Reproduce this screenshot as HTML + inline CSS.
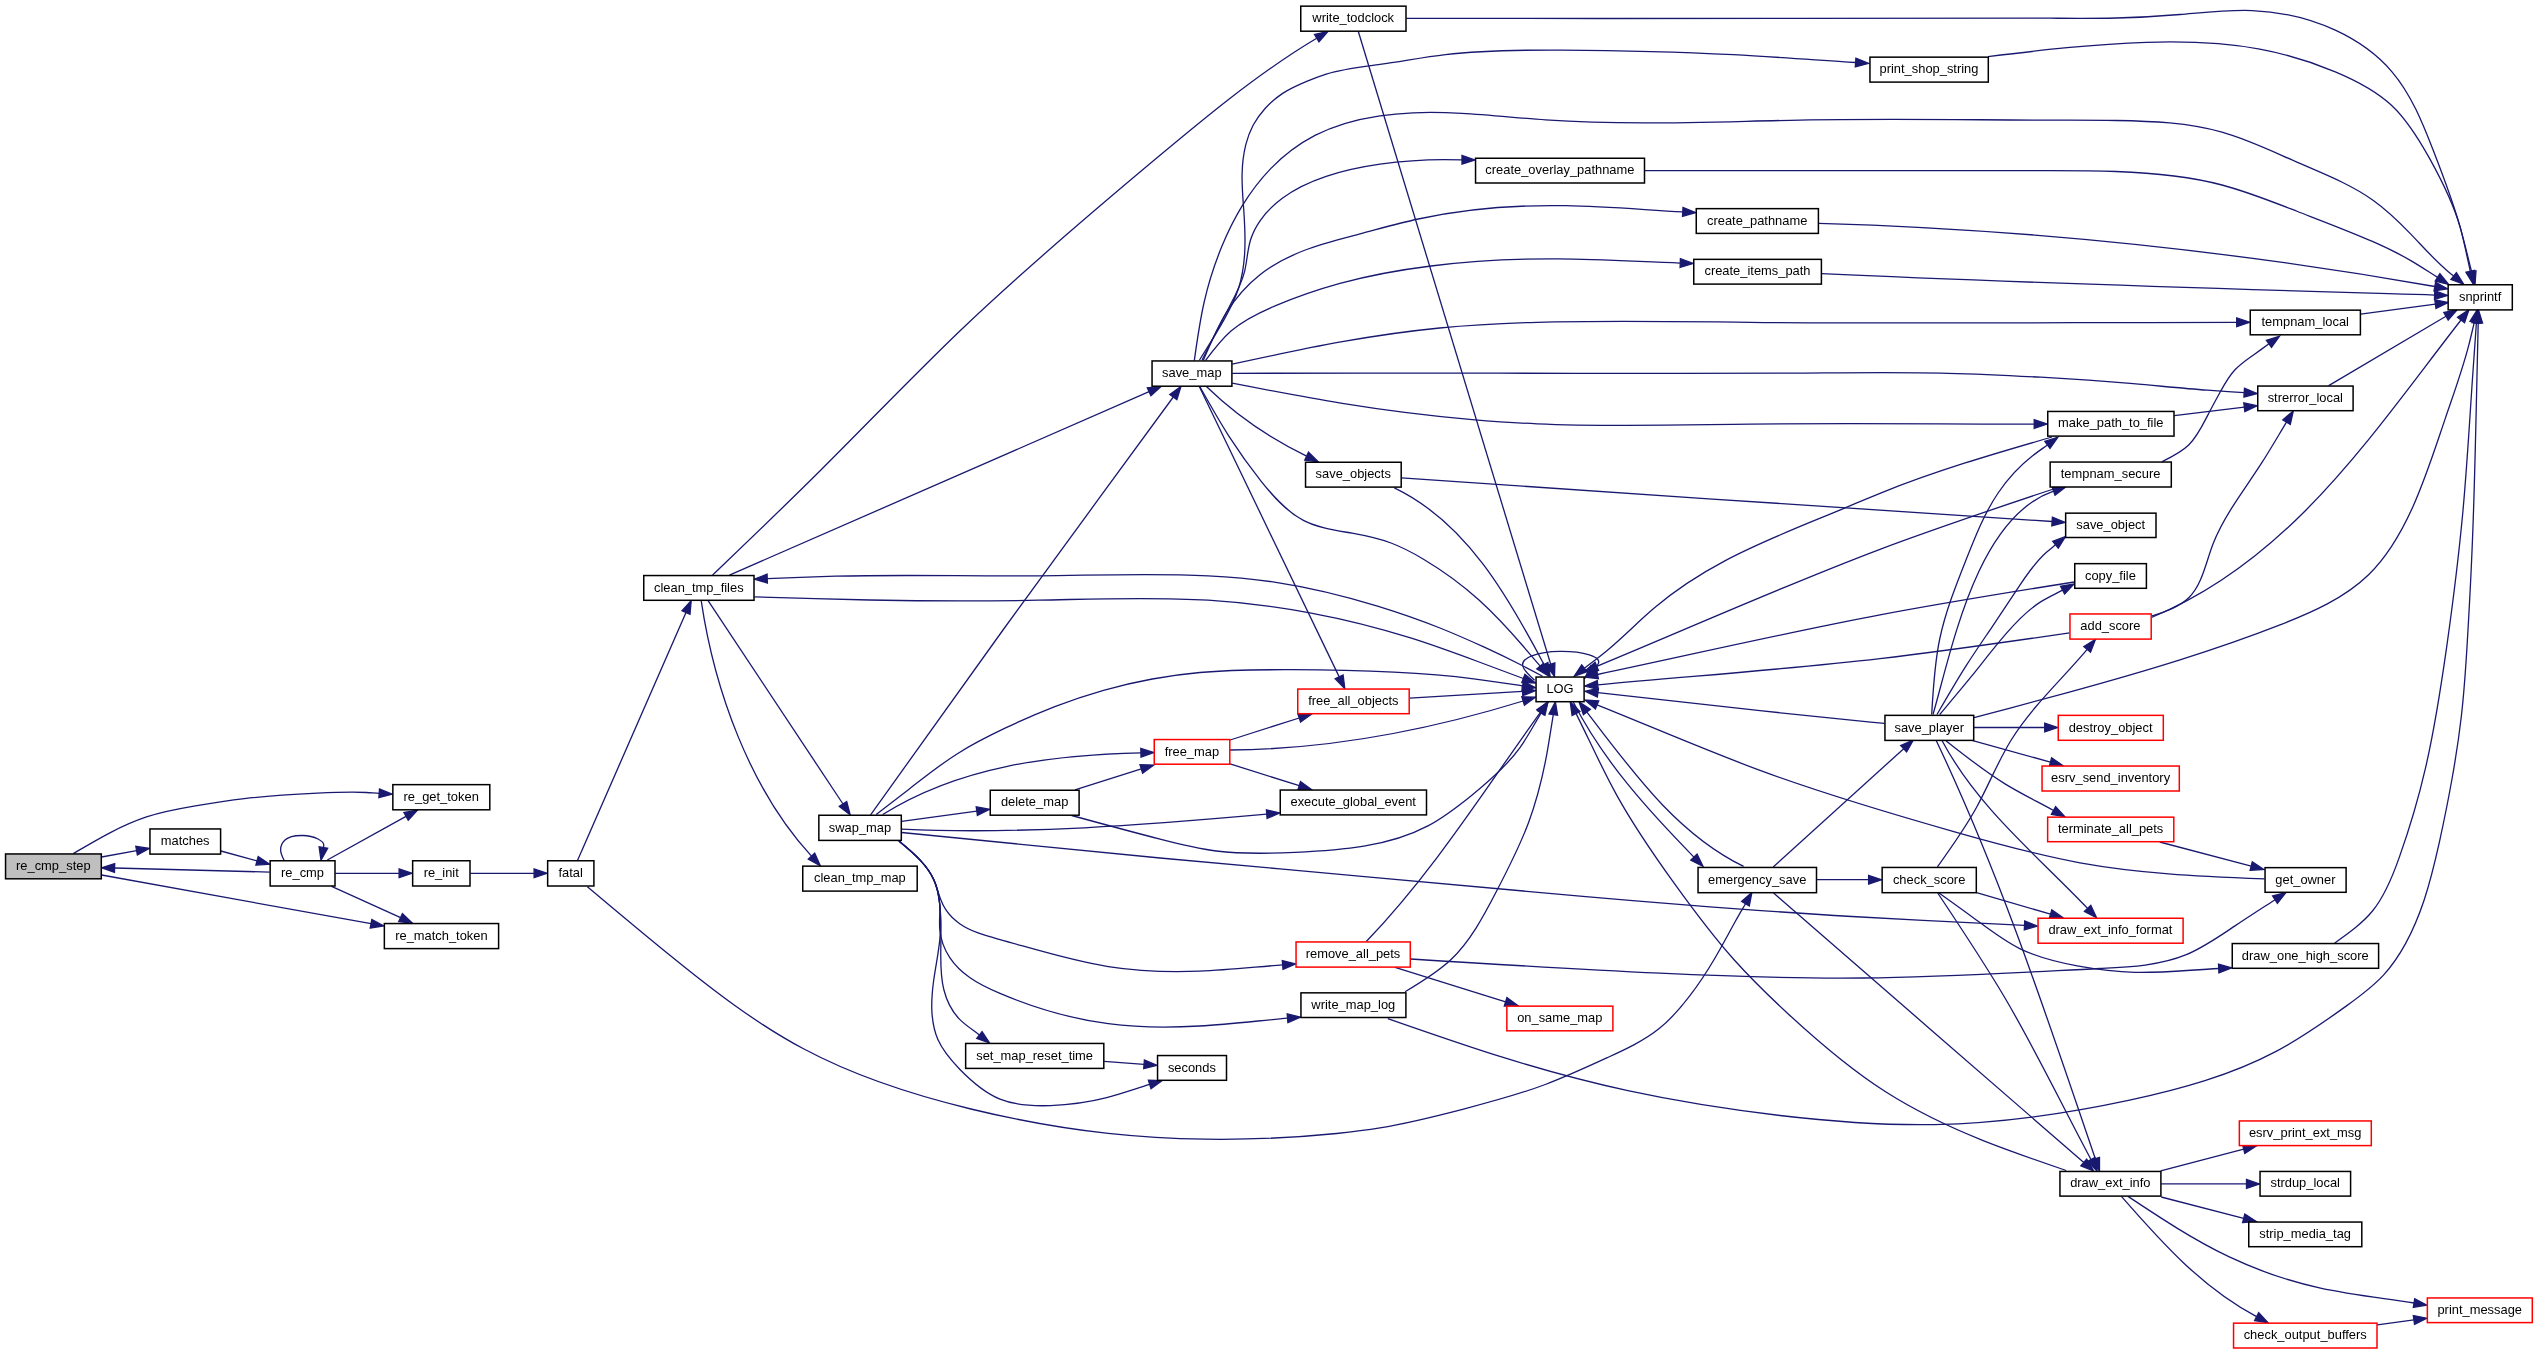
<!DOCTYPE html>
<html><head><meta charset="utf-8"><title>Call graph</title>
<style>html,body{margin:0;padding:0;background:#fff;overflow:hidden;}svg{display:block;will-change:transform;}text{font-family:"Liberation Sans",sans-serif;font-size:12.9px;fill:#000;}</style>
</head><body>
<svg xmlns="http://www.w3.org/2000/svg" width="2539" height="1355" viewBox="0 0 2539 1355">
<rect x="0" y="0" width="2539" height="1355" fill="#fff"/>
<g fill="none" stroke="#191970" stroke-width="1.3">
<path d="M73.3,853.6 C85.4,846.5 97.4,839.3 109.9,832.8 C121.7,826.6 133.9,821.1 146.5,816.9 C162.3,811.7 178.9,808.7 195.4,805.9 C211.7,803.1 228.0,800.5 244.3,798.6 C268.6,795.7 293.0,794.4 317.5,793.2 C333.8,792.4 350.1,791.6 366.4,792.5 C370.7,792.7 375.0,793.1 379.2,793.3"/>
<path d="M101.6,857.0 L136.6,850.7"/>
<path d="M101.6,875.0 L371.0,923.7"/>
<path d="M220.9,851.0 L257.1,860.9"/>
<path d="M284.1,860.3 C282.3,856.7 280.5,853.2 280.6,849.4 C280.7,846.0 282.5,842.4 285.0,840.0 C289.4,835.8 296.4,835.4 302.5,835.5 C307.9,835.6 312.7,836.3 318.0,839.0 C320.9,840.5 323.9,842.6 323.8,845.3 C323.8,846.0 323.5,846.8 323.4,847.5"/>
<path d="M327.3,860.0 L406.0,816.4"/>
<path d="M335.3,873.3 L399.1,873.3"/>
<path d="M331.6,886.3 L400.6,917.7"/>
<path d="M269.6,872.1 L114.6,868.0"/>
<path d="M470.3,873.3 L534.1,873.3"/>
<path d="M577.6,860.3 L686.0,612.5"/>
<path d="M587.4,886.7 C614.6,909.6 641.9,932.5 669.6,955.0 C712.0,989.5 755.6,1023.2 803.5,1048.8 C855.7,1076.7 913.0,1095.0 970.9,1109.0 C1016.3,1120.0 1062.0,1128.4 1108.2,1133.4 C1140.4,1136.9 1172.8,1138.7 1205.2,1139.2 C1249.1,1139.8 1293.0,1137.9 1336.6,1133.5 C1351.1,1132.0 1365.6,1130.3 1380.0,1127.9 C1407.8,1123.3 1435.2,1116.4 1462.6,1109.3 C1490.5,1102.0 1518.4,1094.6 1545.3,1084.5 C1566.3,1076.6 1586.7,1067.2 1607.3,1057.7 C1625.3,1049.4 1643.6,1041.0 1658.9,1028.8 C1670.7,1019.4 1680.7,1007.8 1689.9,995.7 C1699.0,983.8 1707.2,971.3 1714.7,958.5 C1721.9,946.3 1728.5,933.7 1735.4,921.3 C1738.7,915.4 1742.1,909.6 1745.5,903.7"/>
<path d="M712.5,575.1 C749.0,540.1 785.6,505.2 821.4,469.5 C868.0,423.1 913.4,375.5 960.9,330.0 C1024.7,269.0 1092.2,211.9 1160.0,155.3 C1182.4,136.6 1204.9,118.0 1227.9,100.0 C1256.4,77.8 1285.7,56.6 1316.7,38.2"/>
<path d="M729.5,575.1 L1149.1,391.7"/>
<path d="M754.3,596.9 C792.7,598.1 831.0,599.2 869.4,600.0 C925.8,601.1 982.2,601.3 1038.7,600.2 C1095.2,599.1 1151.8,596.7 1208.1,600.2 C1242.2,602.3 1276.2,606.6 1309.8,612.8 C1344.2,619.2 1378.1,627.6 1411.4,638.2 C1434.2,645.4 1456.7,653.7 1479.1,662.0 C1493.8,667.5 1508.6,673.0 1523.3,678.5"/>
<path d="M708.1,600.6 L843.0,804.0"/>
<path d="M701.2,600.6 C714.3,689.2 749.6,788.9 811.5,856.1"/>
<path d="M1542.6,676.2 C1535.5,672.4 1528.4,668.7 1521.2,665.0 C1509.0,658.8 1496.7,652.9 1484.3,647.2 C1469.7,640.5 1454.9,634.0 1440.0,628.0 C1419.5,619.8 1398.6,612.6 1377.5,606.1 C1344.2,595.9 1310.3,587.5 1275.9,582.3 C1253.4,578.9 1230.8,576.9 1208.1,575.8 C1151.7,572.9 1095.2,575.3 1038.7,575.8 C970.9,576.4 903.2,574.4 835.5,576.2 C812.8,576.8 790.0,577.8 767.3,578.6"/>
<path d="M870.6,814.8 C914.6,753.1 958.6,691.4 1003.0,630.0 C1059.4,552.1 1116.6,474.7 1173.3,397.0"/>
<path d="M876.2,814.5 C887.0,806.2 897.9,797.8 908.7,789.4 C924.6,777.0 940.4,764.4 957.4,753.7 C972.9,743.9 989.4,735.6 1006.1,727.7 C1022.1,720.1 1038.3,713.0 1054.8,706.6 C1070.8,700.4 1087.0,695.0 1103.5,690.3 C1119.6,685.8 1135.9,682.0 1152.3,679.0 C1168.1,676.1 1184.0,673.9 1200.0,672.5 C1230.2,669.8 1260.6,669.6 1291.0,669.7 C1352.1,669.9 1413.2,671.1 1473.7,678.8 C1490.0,680.9 1506.3,683.4 1522.6,685.8"/>
<path d="M882.7,814.5 C959.8,766.1 1052.0,754.9 1140.9,752.8"/>
<path d="M901.6,821.4 L976.8,811.1"/>
<path d="M901.6,829.2 C1023.6,834.6 1145.4,825.0 1266.8,814.2"/>
<path d="M901.6,832.5 C987.7,841.2 1073.8,850.0 1160.0,858.0 C1200.0,861.7 1240.0,865.3 1280.0,868.9 C1380.0,878.0 1480.0,887.4 1580.0,896.1 C1670.6,904.0 1761.2,911.2 1851.9,916.5 C1909.4,919.9 1967.0,922.5 2024.5,925.4"/>
<path d="M898.9,841.0 C906.2,847.0 913.4,853.0 919.9,859.9 C925.5,865.8 930.5,872.4 933.8,879.8 C936.6,886.0 938.1,892.6 940.5,899.0 C941.9,902.7 943.6,906.4 945.8,909.7 C949.4,915.2 954.3,919.9 959.7,923.7 C971.6,932.0 985.9,935.7 1000.0,939.6 C1036.4,949.6 1071.7,960.8 1108.2,966.6 C1138.2,971.3 1169.0,972.4 1199.6,971.2 C1227.4,970.1 1255.0,967.0 1282.6,964.9"/>
<path d="M898.9,841.0 C906.2,847.0 913.5,853.0 919.9,859.9 C925.4,865.8 930.4,872.4 933.8,879.8 C937.5,887.6 939.4,896.3 939.8,905.0 C940.2,913.3 939.0,921.5 939.8,929.7 C940.7,939.5 944.3,949.3 949.8,957.6 C955.0,965.5 962.0,972.1 969.7,977.5 C979.0,984.1 989.4,988.9 1000.0,993.4 C1034.7,1008.1 1071.1,1018.8 1108.2,1023.7 C1138.4,1027.7 1169.1,1027.8 1199.6,1026.0 C1229.0,1024.3 1258.2,1020.8 1287.6,1018.2"/>
<path d="M898.9,841.0 C906.2,847.0 913.4,853.0 919.9,859.9 C925.5,865.8 930.5,872.4 933.8,879.8 C937.3,887.6 938.9,896.3 939.8,905.0 C941.4,919.9 941.0,934.7 940.8,949.6 C940.6,963.0 940.5,976.4 943.8,989.5 C946.6,1000.6 951.8,1011.4 959.7,1019.4 C965.5,1025.3 972.8,1029.8 979.4,1034.9"/>
<path d="M898.9,841.0 C906.2,847.0 913.4,853.0 919.9,859.9 C925.5,865.8 930.5,872.4 933.8,879.8 C937.3,887.6 938.9,896.3 939.8,905.0 C941.0,916.6 940.9,928.1 939.8,939.6 C938.5,953.0 935.7,966.2 933.8,979.5 C932.4,989.4 931.5,999.3 931.8,1009.4 C932.2,1019.7 933.8,1030.0 937.8,1039.3 C942.6,1050.5 950.9,1060.1 959.7,1069.2 C971.7,1081.5 984.7,1092.9 1000.0,1099.1 C1015.4,1105.3 1033.1,1106.2 1050.3,1105.6 C1069.3,1104.9 1087.7,1102.5 1105.7,1097.9 C1120.5,1094.1 1135.0,1088.9 1149.7,1084.4"/>
<path d="M1075.0,789.8 L1141.3,768.9"/>
<path d="M1071.7,815.5 C1101.0,823.5 1130.4,831.5 1160.0,839.1 C1178.7,843.9 1197.5,848.5 1216.4,851.0 C1242.2,854.3 1268.3,853.6 1295.0,852.4 C1340.9,850.3 1388.5,846.8 1427.9,825.9 C1443.6,817.5 1458.0,806.4 1472.2,794.9 C1489.8,780.6 1507.0,765.7 1520.0,747.6 C1527.8,736.6 1534.1,724.5 1541.2,712.9"/>
<path d="M1104.1,1061.3 L1144.0,1064.3"/>
<path d="M1199.5,360.0 C1207.8,346.9 1216.1,333.7 1223.8,320.1 C1229.5,309.9 1234.9,299.5 1238.5,288.5 C1242.1,277.5 1243.8,266.0 1244.6,254.4 C1245.6,239.7 1244.8,225.1 1243.8,210.5 C1242.9,198.3 1241.8,186.2 1242.1,174.0 C1242.3,164.1 1243.4,154.3 1245.8,144.7 C1247.5,138.0 1249.9,131.4 1253.1,125.3 C1256.4,119.1 1260.6,113.4 1265.3,108.2 C1270.4,102.7 1276.1,97.7 1282.3,93.6 C1289.9,88.6 1298.3,84.9 1306.7,81.4 C1313.1,78.7 1319.6,76.2 1326.2,74.1 C1343.5,68.7 1361.9,66.9 1380.0,64.4 C1401.9,61.4 1423.6,57.3 1445.4,54.7 C1483.5,50.1 1522.1,49.9 1560.6,50.1 C1618.3,50.4 1675.8,51.7 1733.3,54.7 C1774.1,56.8 1814.9,59.9 1855.6,62.5"/>
<path d="M1194.3,360.6 C1197.1,340.8 1199.8,321.0 1204.3,301.5 C1208.6,282.6 1214.6,264.0 1222.0,246.1 C1227.7,232.3 1234.3,218.9 1242.0,206.2 C1250.2,192.7 1259.7,180.0 1270.7,168.6 C1283.6,155.3 1298.6,143.9 1315.0,135.4 C1335.2,125.0 1357.5,119.1 1380.0,115.8 C1391.0,114.2 1402.0,113.3 1413.0,112.8 C1457.1,110.9 1501.3,116.8 1545.5,119.9 C1630.3,125.8 1715.1,121.6 1800.0,120.1 C1883.4,118.6 1966.9,119.9 2050.0,120.1 C2071.9,120.2 2093.9,120.1 2116.0,120.5 C2151.8,121.1 2188.0,122.6 2222.0,132.2 C2247.9,139.5 2272.4,151.5 2297.5,162.4 C2323.5,173.8 2350.2,184.0 2373.0,200.2 C2386.7,209.9 2399.0,221.8 2410.8,234.1 C2423.2,247.0 2434.9,260.5 2448.6,271.9 C2450.3,273.3 2452.0,274.7 2453.7,276.0"/>
<path d="M1202.1,360.0 C1210.8,342.7 1219.5,325.4 1228.7,308.0 C1235.0,296.1 1241.5,284.3 1244.6,271.4 C1247.1,261.0 1247.4,250.0 1250.6,239.8 C1252.7,232.9 1256.2,226.3 1260.4,220.3 C1266.4,211.8 1274.0,204.5 1282.3,198.3 C1295.5,188.5 1310.6,181.6 1326.2,176.4 C1343.7,170.5 1361.8,166.8 1380.0,164.2 C1401.1,161.2 1422.4,159.6 1443.7,159.6 C1449.8,159.6 1455.9,159.7 1462.0,159.8"/>
<path d="M1203.2,360.6 C1210.1,344.1 1217.0,327.7 1226.4,312.6 C1235.3,298.4 1246.5,285.3 1259.7,274.9 C1273.0,264.4 1288.2,256.6 1304.0,250.5 C1322.2,243.5 1341.2,238.9 1360.0,233.9 C1379.4,228.8 1398.7,223.3 1418.2,219.0 C1466.5,208.4 1516.4,204.8 1565.9,205.7 C1605.0,206.4 1643.8,209.8 1682.7,211.9"/>
<path d="M1205.4,360.6 C1213.3,350.0 1221.3,339.5 1231.0,331.0 C1243.8,319.9 1259.7,312.3 1275.7,305.6 C1296.9,296.7 1318.2,289.4 1340.0,283.4 C1369.7,275.3 1400.3,269.8 1431.0,266.0 C1473.2,260.7 1515.7,258.6 1558.2,258.9 C1598.9,259.2 1639.5,261.7 1680.2,263.1"/>
<path d="M1232.2,364.2 C1268.8,356.2 1305.4,348.3 1342.3,341.7 C1374.6,335.9 1407.1,331.2 1439.7,328.0 C1472.1,324.8 1504.6,323.2 1537.1,322.3 C1608.1,320.3 1679.0,321.6 1750.0,322.3 C1912.2,323.9 2074.5,322.3 2236.7,322.3"/>
<path d="M1232.2,373.3 C1321.5,373.2 1410.7,373.1 1500.0,373.2 C1600.0,373.3 1700.0,373.8 1800.0,373.1 C1849.3,372.8 1898.7,372.1 1948.0,373.3 C1978.9,374.0 2009.8,375.5 2040.7,377.2 C2071.6,378.9 2102.4,381.0 2133.2,383.7 C2157.9,385.8 2182.6,388.4 2207.3,390.2 C2219.6,391.1 2231.9,391.8 2244.2,392.6"/>
<path d="M1232.2,383.2 C1268.8,390.3 1305.5,397.4 1342.3,403.4 C1385.4,410.4 1428.7,415.9 1472.2,419.6 C1493.8,421.4 1515.4,422.9 1537.1,423.8 C1608.0,426.9 1679.0,424.9 1750.0,424.1 C1844.8,423.0 1939.5,424.1 2034.2,424.1"/>
<path d="M1206.4,386.5 C1236.1,415.3 1269.6,438.2 1306.6,456.1"/>
<path d="M1199.3,386.5 L1339.2,676.9"/>
<path d="M1199.8,386.5 C1209.2,403.2 1218.5,419.8 1228.7,435.8 C1238.7,451.4 1249.4,466.4 1261.2,481.3 C1273.4,496.6 1286.7,511.8 1303.4,520.3 C1318.1,527.8 1335.3,530.2 1352.1,533.2 C1365.5,535.6 1378.5,538.4 1391.0,543.0 C1402.3,547.2 1413.1,553.0 1423.5,559.2 C1443.3,571.0 1462.0,584.6 1479.0,600.0 C1494.7,614.2 1509.1,629.9 1523.0,646.0 C1528.8,652.7 1534.4,659.4 1540.2,666.1"/>
<path d="M1406.3,18.4 C1537.5,18.5 1668.8,18.6 1800.0,18.3 C1883.3,18.1 1966.6,17.7 2050.0,18.2 C2072.1,18.3 2094.2,18.5 2116.3,18.0 C2137.5,17.5 2158.8,16.3 2180.0,14.5 C2204.1,12.5 2228.1,9.7 2252.2,10.6 C2280.6,11.7 2309.1,18.1 2335.3,30.2 C2356.9,40.2 2376.9,54.1 2392.0,71.8 C2411.2,94.3 2422.6,122.9 2433.5,151.0 C2443.3,176.2 2452.7,201.0 2460.0,226.6 C2464.3,241.6 2467.8,256.9 2471.7,272.0"/>
<path d="M1358.4,31.8 L1550.7,664.2"/>
<path d="M1394.3,487.8 C1466.1,522.1 1508.3,596.8 1544.0,664.5"/>
<path d="M1401.5,477.9 C1616.7,493.3 1837.5,506.9 2052.1,521.5"/>
<path d="M1409.5,698.1 L1522.5,691.3"/>
<path d="M1230.1,740.0 L1299.2,718.0"/>
<path d="M1230.1,750.0 C1330.8,749.3 1427.6,730.5 1523.1,701.0"/>
<path d="M1230.1,763.9 L1299.2,785.7"/>
<path d="M1366.3,941.5 C1433.5,871.6 1484.6,789.7 1540.4,712.3"/>
<path d="M1410.6,959.0 C1493.6,964.2 1576.7,969.3 1660.0,973.2 C1727.8,976.4 1795.9,978.7 1863.3,978.0 C1941.8,977.2 2019.5,972.5 2100.0,968.5 C2129.7,967.0 2159.7,965.7 2186.3,954.7 C2203.5,947.6 2219.2,936.5 2235.0,925.9 C2248.3,917.0 2261.7,908.4 2275.0,899.7"/>
<path d="M1395.1,967.4 L1505.6,1001.8"/>
<path d="M1405.1,991.8 C1421.3,982.1 1437.5,972.4 1450.8,959.8 C1470.4,941.1 1483.7,916.0 1496.5,891.3 C1508.3,868.6 1519.7,846.3 1528.5,822.7 C1536.7,800.6 1542.5,777.5 1546.8,754.2 C1549.2,741.0 1551.1,727.8 1553.3,714.6"/>
<path d="M1387.8,1018.6 C1426.4,1032.1 1465.0,1045.6 1504.0,1057.7 C1544.8,1070.4 1586.2,1081.6 1627.9,1090.7 C1678.1,1101.6 1728.9,1109.5 1780.0,1115.5 C1831.3,1121.5 1883.0,1125.5 1934.5,1124.6 C1999.9,1123.4 2065.0,1114.1 2129.6,1100.2 C2180.4,1089.2 2230.9,1075.4 2276.1,1051.4 C2300.7,1038.4 2323.7,1022.3 2346.5,1005.9 C2359.7,996.4 2372.8,986.8 2383.7,974.9 C2392.2,965.6 2399.3,955.0 2405.4,943.9 C2413.0,930.0 2419.0,915.4 2424.0,900.5 C2430.4,881.2 2435.1,861.4 2439.5,841.6 C2444.0,821.0 2448.2,800.3 2451.9,779.5 C2455.6,758.9 2458.8,738.3 2461.2,717.5 C2464.2,691.8 2465.9,665.9 2467.4,640.0 C2469.4,606.3 2471.2,572.7 2472.5,539.0 C2474.3,494.7 2475.3,450.3 2476.3,406.0 C2476.9,378.3 2477.6,350.7 2478.2,323.0"/>
<path d="M1534.6,680.2 C1529.2,675.3 1523.8,670.4 1522.8,666.2 C1520.5,657.2 1538.7,651.7 1559.7,651.4 C1580.9,651.1 1604.9,656.2 1597.3,665.4 C1596.4,666.5 1595.1,667.6 1594.0,668.8"/>
<path d="M1573.1,701.8 C1603.8,761.7 1647.8,809.9 1693.9,857.1"/>
<path d="M1743.6,866.4 C1675.8,833.2 1631.5,770.0 1586.9,712.1"/>
<path d="M1773.2,867.0 L1903.7,748.7"/>
<path d="M1816.8,879.7 L1868.6,879.7"/>
<path d="M1773.6,893.0 C1875.7,981.8 1981.6,1073.8 2083.8,1162.5"/>
<path d="M1988.0,56.6 C2040.6,50.3 2093.3,44.0 2146.5,42.3 C2184.5,41.1 2222.7,42.2 2259.8,49.1 C2285.5,53.9 2310.7,61.6 2335.3,71.8 C2355.9,80.4 2376.1,90.8 2392.0,105.7 C2407.6,120.4 2419.0,139.4 2429.7,158.6 C2441.9,180.6 2453.1,202.9 2460.0,226.6 C2464.2,241.2 2466.9,256.4 2470.3,271.3"/>
<path d="M1644.8,170.7 C1713.2,170.7 1781.6,170.7 1850.0,170.7 C1916.7,170.7 1983.4,170.7 2050.0,170.7 C2072.0,170.7 2093.9,170.7 2116.0,171.5 C2151.7,172.7 2187.6,175.9 2222.0,185.0 C2247.7,191.8 2272.6,201.8 2297.5,211.5 C2322.8,221.3 2348.2,230.8 2373.0,241.7 C2385.9,247.4 2398.6,253.5 2410.8,260.6 C2419.9,265.9 2428.7,271.8 2437.6,277.4"/>
<path d="M1818.7,223.3 C2025.5,229.1 2231.2,250.7 2434.8,286.5"/>
<path d="M1821.7,273.7 C2025.7,283.2 2230.2,289.0 2434.6,295.1"/>
<path d="M2360.6,314.2 L2435.4,304.1"/>
<path d="M2328.7,385.6 L2446.0,316.3"/>
<path d="M2174.3,415.6 L2244.3,407.2"/>
<path d="M2052.0,437.0 C1993.9,453.8 1935.9,470.7 1880.0,493.3 C1867.8,498.3 1855.6,503.5 1843.4,508.6 C1803.7,525.2 1763.3,540.4 1725.3,560.6 C1700.2,573.9 1676.1,589.4 1654.5,607.8 C1638.3,621.5 1623.5,636.9 1607.2,650.4 C1599.8,656.5 1592.0,662.3 1584.4,668.3"/>
<path d="M2162.2,461.6 C2171.8,456.9 2181.4,452.1 2188.7,445.0 C2196.7,437.2 2202.0,426.4 2207.3,416.1 C2211.5,407.9 2215.8,400.0 2220.2,392.0 C2224.5,384.2 2228.9,376.2 2235.0,369.8 C2240.4,364.1 2247.0,359.6 2253.5,355.0 C2258.7,351.3 2263.8,347.5 2269.0,343.8"/>
<path d="M2058.0,487.5 C1998.4,507.3 1938.8,527.2 1880.0,549.3 C1784.5,585.3 1691.2,627.3 1596.8,666.3"/>
<path d="M2074.2,582.0 C2009.3,592.3 1944.5,602.7 1880.0,614.9 C1785.5,632.8 1691.7,654.6 1597.5,674.5"/>
<path d="M2069.4,632.9 C2006.3,642.1 1943.3,651.3 1880.0,658.6 C1786.2,669.4 1691.8,676.1 1597.7,684.9"/>
<path d="M2151.5,616.2 C2165.6,611.5 2179.7,606.7 2189.0,597.5 C2202.1,584.6 2205.8,562.8 2213.0,544.0 C2218.6,529.4 2226.2,516.5 2234.4,503.8 C2243.1,490.4 2252.5,477.2 2261.2,463.7 C2270.0,450.0 2278.1,436.0 2286.5,422.1"/>
<path d="M2151.5,617.5 C2290.6,560.5 2372.7,433.3 2461.0,320.0"/>
<path d="M1931.7,714.5 C1933.1,689.1 1934.5,663.6 1939.7,639.0 C1945.5,611.8 1955.8,585.6 1966.2,559.4 C1975.3,536.4 1984.3,513.4 1998.1,493.0 C2007.6,479.0 2019.3,466.2 2032.6,455.8 C2037.4,452.0 2042.5,448.5 2047.4,444.9"/>
<path d="M1933.0,714.5 C1952.2,648.1 1976.7,517.9 2053.5,491.1"/>
<path d="M1937.0,714.5 C1946.5,698.1 1956.0,681.6 1966.2,665.6 C1974.8,652.1 1983.9,639.0 1992.8,625.8 C2001.7,612.6 2010.5,599.3 2019.4,585.9 C2027.3,574.0 2035.4,562.1 2045.9,552.7 C2049.0,550.0 2052.3,547.4 2055.5,544.8"/>
<path d="M1939.7,714.5 C1950.4,701.8 1961.2,689.1 1971.6,676.2 C1983.0,662.0 1994.1,647.6 2006.1,633.7 C2016.4,621.8 2027.4,610.2 2040.6,601.9 C2047.6,597.5 2055.2,594.1 2062.5,590.1"/>
<path d="M1974.0,717.6 C2004.9,709.4 2035.7,701.3 2066.6,692.8 C2104.6,682.4 2142.6,671.6 2180.0,659.8 C2213.5,649.3 2246.6,638.0 2280.0,624.9 C2312.1,612.3 2344.5,598.1 2368.6,574.7 C2387.8,556.1 2401.7,531.7 2412.9,506.7 C2425.9,477.7 2435.3,447.8 2445.4,418.1 C2453.7,393.7 2462.6,369.3 2469.0,344.3 C2470.9,337.0 2472.5,329.7 2474.3,322.3"/>
<path d="M1974.0,727.5 L2044.7,727.5"/>
<path d="M1972.8,740.7 L2050.5,762.1"/>
<path d="M1945.9,740.7 C1965.2,756.0 1984.5,771.3 2005.4,784.1 C2021.0,793.6 2037.5,801.7 2053.5,810.5"/>
<path d="M1942.1,740.7 C1977.6,807.4 2037.0,855.3 2087.6,908.4"/>
<path d="M1936.3,740.7 C2001.1,877.0 2046.5,1015.7 2095.3,1158.7"/>
<path d="M1884.4,723.4 C1842.9,719.3 1801.4,715.1 1760.0,710.7 C1705.9,704.9 1651.9,698.7 1597.9,692.7"/>
<path d="M1937.3,867.0 C1951.2,847.6 1965.2,828.1 1976.6,807.2 C1988.7,785.1 1998.0,761.3 2011.2,740.0 C2031.8,706.7 2061.8,679.6 2087.2,649.4"/>
<path d="M1976.6,892.6 L2050.5,914.2"/>
<path d="M1939.1,893.0 C1950.6,901.2 1962.2,909.4 1973.6,917.9 C1988.5,928.9 2003.3,940.5 2019.7,948.6 C2037.5,957.4 2057.4,962.2 2077.2,965.9 C2096.4,969.4 2115.5,971.9 2134.8,972.4 C2162.7,973.1 2190.7,969.8 2218.7,968.5"/>
<path d="M1937.7,893.0 C1960.8,927.6 1983.9,962.2 2005.0,998.0 C2035.9,1050.5 2062.3,1105.7 2091.0,1159.5"/>
<path d="M2159.7,842.0 L2251.2,866.1"/>
<path d="M2264.5,878.9 C2232.5,877.6 2200.5,876.3 2168.6,873.8 C2138.9,871.5 2109.3,868.1 2080.0,862.8 C2038.0,855.2 1996.7,843.8 1955.5,832.1 C1889.7,813.4 1824.1,794.1 1760.0,770.4 C1705.1,750.1 1651.4,726.7 1597.1,704.9"/>
<path d="M2334.6,943.1 C2348.4,933.3 2362.1,923.6 2372.5,911.0 C2384.9,896.0 2392.4,876.9 2399.1,857.9 C2409.8,827.8 2418.6,798.0 2425.6,767.6 C2434.9,727.5 2441.1,686.4 2446.9,645.4 C2453.1,601.1 2458.7,556.9 2462.8,512.5 C2466.9,468.3 2469.4,424.0 2472.4,379.7 C2473.7,360.8 2475.1,341.9 2476.4,323.0"/>
<path d="M2066.2,1170.5 C2038.4,1161.0 2010.6,1151.5 1983.2,1140.6 C1949.4,1127.1 1916.2,1111.3 1885.6,1091.8 C1850.5,1069.4 1818.7,1042.1 1788.0,1013.7 C1769.4,996.5 1751.2,978.8 1734.3,960.0 C1712.7,935.9 1693.3,909.8 1674.3,883.4 C1653.7,854.8 1633.7,825.8 1616.7,795.1 C1602.0,768.5 1589.6,740.7 1576.0,713.4"/>
<path d="M2160.7,1170.8 L2243.7,1149.2"/>
<path d="M2161.2,1183.9 L2246.5,1183.9"/>
<path d="M2161.2,1197.0 L2243.7,1218.3"/>
<path d="M2128.0,1196.4 C2160.7,1218.1 2193.5,1239.8 2228.8,1256.7 C2258.0,1270.6 2288.9,1281.2 2320.5,1288.1 C2351.3,1294.8 2382.8,1298.1 2414.0,1303.0"/>
<path d="M2121.4,1196.4 C2161.6,1242.4 2202.1,1287.8 2256.6,1316.6"/>
<path d="M2377.3,1324.8 L2413.9,1319.9"/>
</g>
<g fill="#191970" stroke="#191970" stroke-width="1.3">
<polygon points="378.9,797.7 392.2,794.2 379.5,789.0"/>
<polygon points="137.4,855.0 149.4,848.4 135.8,846.4"/>
<polygon points="370.2,928.0 383.8,926.0 371.8,919.4"/>
<polygon points="255.9,865.1 269.6,864.3 258.2,856.6"/>
<polygon points="319.1,846.7 321.0,860.3 327.7,848.3"/>
<polygon points="408.2,820.2 417.4,810.1 403.9,812.5"/>
<polygon points="399.1,877.7 412.1,873.3 399.1,868.9"/>
<polygon points="398.7,921.7 412.4,923.1 402.4,913.7"/>
<polygon points="114.7,863.6 101.6,867.7 114.5,872.4"/>
<polygon points="534.1,877.7 547.1,873.3 534.1,868.9"/>
<polygon points="690.0,614.3 691.2,600.6 682.0,610.7"/>
<polygon points="1749.3,905.9 1751.9,892.4 1741.6,901.5"/>
<polygon points="1319.0,41.9 1327.9,31.5 1314.5,34.4"/>
<polygon points="1150.9,395.7 1161.0,386.5 1147.3,387.7"/>
<polygon points="1521.8,682.6 1535.5,683.0 1524.9,674.3"/>
<polygon points="839.3,806.4 850.2,814.8 846.7,801.5"/>
<polygon points="808.3,859.1 820.3,865.7 814.7,853.2"/>
<polygon points="767.1,574.2 754.3,579.1 767.4,583.0"/>
<polygon points="1176.9,399.6 1181.0,386.5 1169.8,394.4"/>
<polygon points="1522.0,690.1 1535.5,687.6 1523.3,681.4"/>
<polygon points="1141.0,757.2 1153.9,752.5 1140.8,748.4"/>
<polygon points="977.4,815.4 989.7,809.3 976.2,806.7"/>
<polygon points="1267.1,818.5 1279.7,813.0 1266.4,809.8"/>
<polygon points="2024.3,929.8 2037.5,926.1 2024.7,921.0"/>
<polygon points="1283.0,969.3 1295.6,963.9 1282.3,960.5"/>
<polygon points="1287.9,1022.6 1300.5,1017.1 1287.2,1013.9"/>
<polygon points="976.7,1038.4 989.6,1043.0 982.1,1031.5"/>
<polygon points="1151.0,1088.6 1162.1,1080.6 1148.4,1080.2"/>
<polygon points="1142.6,773.1 1153.7,765.0 1140.0,764.7"/>
<polygon points="1545.0,715.2 1548.0,701.8 1537.5,710.6"/>
<polygon points="1143.7,1068.7 1157.0,1065.3 1144.4,1059.9"/>
<polygon points="1855.3,66.9 1868.6,63.3 1855.9,58.1"/>
<polygon points="2450.9,279.5 2463.7,284.3 2456.4,272.6"/>
<polygon points="1462.0,164.2 1475.0,159.9 1462.0,155.4"/>
<polygon points="1682.5,216.3 1695.7,212.6 1683.0,207.5"/>
<polygon points="1680.1,267.5 1693.2,263.5 1680.4,258.7"/>
<polygon points="2236.7,326.7 2249.7,322.3 2236.7,317.9"/>
<polygon points="2243.9,397.0 2257.2,393.5 2244.5,388.3"/>
<polygon points="2034.2,428.5 2047.2,424.1 2034.2,419.7"/>
<polygon points="1304.7,460.1 1318.3,461.8 1308.5,452.2"/>
<polygon points="1335.2,678.8 1344.8,688.6 1343.1,675.0"/>
<polygon points="1536.8,669.0 1548.6,676.0 1543.5,663.3"/>
<polygon points="2467.5,273.1 2475.0,284.6 2476.0,270.9"/>
<polygon points="1546.5,665.4 1554.5,676.6 1554.9,662.9"/>
<polygon points="1540.1,666.6 1550.1,676.0 1547.9,662.4"/>
<polygon points="2051.8,525.9 2065.1,522.4 2052.4,517.1"/>
<polygon points="1522.8,695.7 1535.5,690.5 1522.3,686.9"/>
<polygon points="1300.6,722.1 1311.6,714.0 1297.9,713.8"/>
<polygon points="1524.4,705.2 1535.5,697.2 1521.8,696.8"/>
<polygon points="1297.9,789.9 1311.6,789.6 1300.5,781.5"/>
<polygon points="1544.0,714.9 1548.0,701.8 1536.8,709.8"/>
<polygon points="2277.4,903.4 2285.9,892.6 2272.6,896.0"/>
<polygon points="1504.3,1006.0 1518.0,1005.7 1506.9,997.6"/>
<polygon points="1557.6,715.3 1555.4,701.8 1549.0,713.9"/>
<polygon points="2482.6,323.1 2478.5,310.0 2473.8,322.9"/>
<polygon points="1590.8,665.7 1584.8,678.0 1597.1,671.9"/>
<polygon points="1690.8,860.2 1703.0,866.4 1697.1,854.0"/>
<polygon points="1590.4,709.4 1579.0,701.8 1583.4,714.8"/>
<polygon points="1906.6,752.0 1913.3,740.0 1900.7,745.5"/>
<polygon points="1868.6,884.1 1881.6,879.7 1868.6,875.3"/>
<polygon points="2080.9,1165.8 2093.6,1171.0 2086.7,1159.2"/>
<polygon points="2466.0,272.3 2473.2,284.0 2474.6,270.3"/>
<polygon points="2435.2,281.1 2448.6,284.3 2439.9,273.7"/>
<polygon points="2434.0,290.9 2447.6,288.8 2435.6,282.2"/>
<polygon points="2434.5,299.5 2447.6,295.5 2434.7,290.7"/>
<polygon points="2436.0,308.5 2448.3,302.4 2434.8,299.8"/>
<polygon points="2448.2,320.1 2457.2,309.7 2443.8,312.5"/>
<polygon points="2244.8,411.6 2257.2,405.7 2243.8,402.9"/>
<polygon points="1581.7,664.8 1574.2,676.3 1587.1,671.7"/>
<polygon points="2271.5,347.4 2279.5,336.2 2266.4,340.3"/>
<polygon points="1595.1,662.3 1584.8,671.3 1598.5,670.4"/>
<polygon points="1596.6,670.2 1584.8,677.2 1598.4,678.8"/>
<polygon points="1597.3,680.5 1584.8,686.1 1598.2,689.3"/>
<polygon points="2290.3,424.4 2293.3,411.0 2282.8,419.8"/>
<polygon points="2464.5,322.7 2469.0,309.7 2457.5,317.3"/>
<polygon points="2050.0,448.4 2057.9,437.2 2044.8,441.4"/>
<polygon points="2055.0,495.2 2065.8,486.8 2052.1,486.9"/>
<polygon points="2058.3,548.2 2065.5,536.5 2052.7,541.4"/>
<polygon points="2064.6,594.0 2074.0,584.0 2060.5,586.3"/>
<polygon points="2478.5,323.4 2477.3,309.7 2470.0,321.3"/>
<polygon points="2044.7,731.9 2057.7,727.5 2044.7,723.1"/>
<polygon points="2049.3,766.4 2063.0,765.6 2051.6,757.9"/>
<polygon points="2051.4,814.3 2064.9,816.7 2055.6,806.6"/>
<polygon points="2084.4,911.4 2096.6,917.8 2090.8,905.4"/>
<polygon points="2091.1,1160.1 2099.5,1171.0 2099.5,1157.3"/>
<polygon points="1598.4,688.4 1585.0,691.3 1597.4,697.1"/>
<polygon points="2090.5,652.2 2095.5,639.4 2083.8,646.5"/>
<polygon points="2049.3,918.4 2063.0,917.8 2051.8,909.9"/>
<polygon points="2218.9,972.9 2231.7,967.9 2218.5,964.1"/>
<polygon points="2087.1,1161.6 2097.1,1171.0 2094.9,1157.5"/>
<polygon points="2250.1,870.3 2263.8,869.4 2252.3,861.8"/>
<polygon points="1598.7,700.8 1585.0,700.0 1595.4,708.9"/>
<polygon points="2480.8,323.3 2477.3,310.0 2472.0,322.7"/>
<polygon points="1579.9,711.5 1570.2,701.8 1572.1,715.4"/>
<polygon points="2244.8,1153.4 2256.3,1145.9 2242.6,1144.9"/>
<polygon points="2246.5,1188.3 2259.5,1183.9 2246.5,1179.5"/>
<polygon points="2242.6,1222.6 2256.3,1221.6 2244.8,1214.1"/>
<polygon points="2413.3,1307.4 2426.8,1305.1 2414.7,1298.7"/>
<polygon points="2254.6,1320.5 2268.1,1322.7 2258.7,1312.7"/>
<polygon points="2414.5,1324.3 2426.8,1318.2 2413.3,1315.6"/>
</g>
<g stroke-width="1.5">
<rect x="5.55" y="853.95" width="95.75" height="24.85" fill="#bfbfbf" stroke="#000"/>
<rect x="149.95" y="828.95" width="70.65" height="25.15" fill="#fff" stroke="#000"/>
<rect x="392.85" y="784.65" width="96.95" height="25.15" fill="#fff" stroke="#000"/>
<rect x="270.15" y="860.75" width="64.85" height="25.25" fill="#fff" stroke="#000"/>
<rect x="412.65" y="860.75" width="57.35" height="25.25" fill="#fff" stroke="#000"/>
<rect x="547.65" y="860.75" width="46.25" height="25.25" fill="#fff" stroke="#000"/>
<rect x="384.35" y="923.55" width="114.25" height="25.05" fill="#fff" stroke="#000"/>
<rect x="643.75" y="575.55" width="110.25" height="24.75" fill="#fff" stroke="#000"/>
<rect x="818.85" y="815.25" width="82.45" height="25.15" fill="#fff" stroke="#000"/>
<rect x="802.75" y="866.15" width="114.45" height="24.95" fill="#fff" stroke="#000"/>
<rect x="1300.75" y="6.15" width="105.25" height="25.05" fill="#fff" stroke="#000"/>
<rect x="1152.05" y="360.95" width="79.85" height="25.25" fill="#fff" stroke="#000"/>
<rect x="1305.55" y="462.25" width="95.65" height="24.85" fill="#fff" stroke="#000"/>
<rect x="1297.75" y="689.05" width="111.45" height="24.65" fill="#fff" stroke="#ff0000"/>
<rect x="1154.25" y="739.55" width="75.55" height="24.65" fill="#fff" stroke="#ff0000"/>
<rect x="990.25" y="790.25" width="88.85" height="24.95" fill="#fff" stroke="#000"/>
<rect x="1280.25" y="790.05" width="146.25" height="24.85" fill="#fff" stroke="#000"/>
<rect x="1296.05" y="941.95" width="114.25" height="25.15" fill="#fff" stroke="#ff0000"/>
<rect x="1300.95" y="992.85" width="104.95" height="24.65" fill="#fff" stroke="#000"/>
<rect x="1506.85" y="1006.15" width="106.05" height="24.65" fill="#fff" stroke="#ff0000"/>
<rect x="965.65" y="1043.45" width="138.15" height="24.95" fill="#fff" stroke="#000"/>
<rect x="1157.55" y="1055.55" width="68.95" height="24.75" fill="#fff" stroke="#000"/>
<rect x="1536.05" y="677.05" width="48.05" height="24.65" fill="#fff" stroke="#000"/>
<rect x="1869.95" y="57.15" width="118.35" height="24.95" fill="#fff" stroke="#000"/>
<rect x="1475.55" y="158.25" width="168.95" height="24.75" fill="#fff" stroke="#000"/>
<rect x="1696.25" y="208.65" width="122.15" height="24.75" fill="#fff" stroke="#000"/>
<rect x="1693.75" y="259.35" width="127.65" height="24.75" fill="#fff" stroke="#000"/>
<rect x="2448.15" y="284.75" width="64.15" height="25.15" fill="#fff" stroke="#000"/>
<rect x="2250.25" y="310.15" width="110.15" height="24.65" fill="#fff" stroke="#000"/>
<rect x="2257.75" y="386.05" width="95.35" height="24.65" fill="#fff" stroke="#000"/>
<rect x="2047.75" y="411.45" width="126.25" height="24.65" fill="#fff" stroke="#000"/>
<rect x="2050.15" y="462.05" width="121.15" height="24.95" fill="#fff" stroke="#000"/>
<rect x="2065.65" y="513.15" width="90.35" height="24.35" fill="#fff" stroke="#000"/>
<rect x="2074.75" y="563.65" width="71.65" height="24.65" fill="#fff" stroke="#000"/>
<rect x="2069.95" y="613.95" width="81.25" height="25.15" fill="#fff" stroke="#ff0000"/>
<rect x="1884.95" y="715.35" width="88.75" height="25.05" fill="#fff" stroke="#000"/>
<rect x="2058.25" y="715.35" width="105.05" height="24.95" fill="#fff" stroke="#ff0000"/>
<rect x="2042.05" y="766.05" width="137.25" height="24.95" fill="#fff" stroke="#ff0000"/>
<rect x="2047.65" y="817.15" width="126.15" height="24.55" fill="#fff" stroke="#ff0000"/>
<rect x="1698.05" y="867.45" width="118.45" height="25.25" fill="#fff" stroke="#000"/>
<rect x="1882.15" y="867.45" width="94.15" height="25.25" fill="#fff" stroke="#000"/>
<rect x="2265.05" y="867.65" width="81.05" height="24.65" fill="#fff" stroke="#000"/>
<rect x="2038.05" y="918.25" width="145.05" height="24.95" fill="#fff" stroke="#ff0000"/>
<rect x="2232.25" y="943.55" width="146.35" height="24.75" fill="#fff" stroke="#000"/>
<rect x="2239.35" y="1120.95" width="131.95" height="24.65" fill="#fff" stroke="#ff0000"/>
<rect x="2059.95" y="1171.45" width="100.95" height="24.65" fill="#fff" stroke="#000"/>
<rect x="2260.05" y="1171.45" width="90.55" height="24.65" fill="#fff" stroke="#000"/>
<rect x="2248.75" y="1222.05" width="113.05" height="24.65" fill="#fff" stroke="#000"/>
<rect x="2427.35" y="1297.95" width="104.95" height="24.65" fill="#fff" stroke="#ff0000"/>
<rect x="2233.55" y="1323.15" width="143.45" height="24.85" fill="#fff" stroke="#ff0000"/>
</g>
<g text-anchor="middle">
<text transform="translate(53.3,870.0) scale(1,1.04)">re_cmp_step</text>
<text transform="translate(185.2,845.2) scale(1,1.04)">matches</text>
<text transform="translate(441.2,800.9) scale(1,1.04)">re_get_token</text>
<text transform="translate(302.5,877.0) scale(1,1.04)">re_cmp</text>
<text transform="translate(441.2,877.0) scale(1,1.04)">re_init</text>
<text transform="translate(570.7,877.0) scale(1,1.04)">fatal</text>
<text transform="translate(441.4,939.7) scale(1,1.04)">re_match_token</text>
<text transform="translate(698.8,591.6) scale(1,1.04)">clean_tmp_files</text>
<text transform="translate(860.0,831.5) scale(1,1.04)">swap_map</text>
<text transform="translate(859.9,882.2) scale(1,1.04)">clean_tmp_map</text>
<text transform="translate(1353.2,22.3) scale(1,1.04)">write_todclock</text>
<text transform="translate(1191.8,377.2) scale(1,1.04)">save_map</text>
<text transform="translate(1353.2,478.3) scale(1,1.04)">save_objects</text>
<text transform="translate(1353.3,705.0) scale(1,1.04)">free_all_objects</text>
<text transform="translate(1191.9,755.5) scale(1,1.04)">free_map</text>
<text transform="translate(1034.6,806.4) scale(1,1.04)">delete_map</text>
<text transform="translate(1353.2,806.1) scale(1,1.04)">execute_global_event</text>
<text transform="translate(1353.0,958.2) scale(1,1.04)">remove_all_pets</text>
<text transform="translate(1353.3,1008.8) scale(1,1.04)">write_map_log</text>
<text transform="translate(1559.8,1022.1) scale(1,1.04)">on_same_map</text>
<text transform="translate(1034.6,1059.5) scale(1,1.04)">set_map_reset_time</text>
<text transform="translate(1191.9,1071.5) scale(1,1.04)">seconds</text>
<text transform="translate(1560.0,693.0) scale(1,1.04)">LOG</text>
<text transform="translate(1929.0,73.3) scale(1,1.04)">print_shop_string</text>
<text transform="translate(1559.9,174.2) scale(1,1.04)">create_overlay_pathname</text>
<text transform="translate(1757.2,224.6) scale(1,1.04)">create_pathname</text>
<text transform="translate(1757.5,275.3) scale(1,1.04)">create_items_path</text>
<text transform="translate(2480.1,300.9) scale(1,1.04)">snprintf</text>
<text transform="translate(2305.2,326.1) scale(1,1.04)">tempnam_local</text>
<text transform="translate(2305.3,402.0) scale(1,1.04)">strerror_local</text>
<text transform="translate(2110.8,427.4) scale(1,1.04)">make_path_to_file</text>
<text transform="translate(2110.6,478.2) scale(1,1.04)">tempnam_secure</text>
<text transform="translate(2110.7,529.0) scale(1,1.04)">save_object</text>
<text transform="translate(2110.4,579.6) scale(1,1.04)">copy_file</text>
<text transform="translate(2110.4,630.2) scale(1,1.04)">add_score</text>
<text transform="translate(1929.2,731.5) scale(1,1.04)">save_player</text>
<text transform="translate(2110.6,731.5) scale(1,1.04)">destroy_object</text>
<text transform="translate(2110.6,782.2) scale(1,1.04)">esrv_send_inventory</text>
<text transform="translate(2110.6,833.1) scale(1,1.04)">terminate_all_pets</text>
<text transform="translate(1757.2,883.7) scale(1,1.04)">emergency_save</text>
<text transform="translate(1929.1,883.7) scale(1,1.04)">check_score</text>
<text transform="translate(2305.4,883.6) scale(1,1.04)">get_owner</text>
<text transform="translate(2110.4,934.4) scale(1,1.04)">draw_ext_info_format</text>
<text transform="translate(2305.3,959.6) scale(1,1.04)">draw_one_high_score</text>
<text transform="translate(2305.2,1136.9) scale(1,1.04)">esrv_print_ext_msg</text>
<text transform="translate(2110.3,1187.4) scale(1,1.04)">draw_ext_info</text>
<text transform="translate(2305.2,1187.4) scale(1,1.04)">strdup_local</text>
<text transform="translate(2305.1,1238.0) scale(1,1.04)">strip_media_tag</text>
<text transform="translate(2479.7,1313.9) scale(1,1.04)">print_message</text>
<text transform="translate(2305.2,1339.2) scale(1,1.04)">check_output_buffers</text>
</g>
</svg>
</body></html>
